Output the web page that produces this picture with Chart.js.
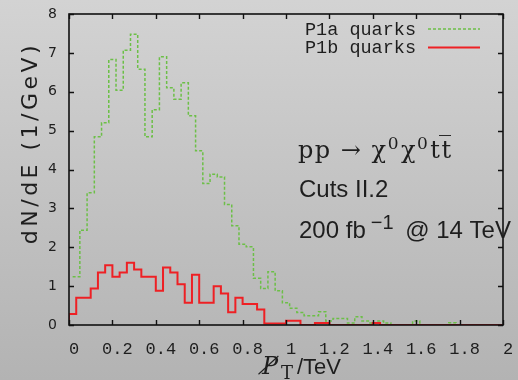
<!DOCTYPE html>
<html>
<head>
<meta charset="utf-8">
<script src="https://cdn.jsdelivr.net/npm/chart.js@4.4.1/dist/chart.umd.min.js"></script>
<style>
    html, body { margin: 0; padding: 0; }
    body { width: 518px; height: 380px; overflow: hidden; background: linear-gradient(#d3d3d3, #b3b3b3); }
    canvas { display: block; }
</style>
</head>
<body>
<canvas id="ptChart" width="518" height="380"></canvas>
<script>
// Histogram: 60 bins of missing pT between 0 and 2 TeV
const xMax = 2;
const nBins = 60;

// P1a quarks, read bin by bin (plotted half a bin shifted, starting at the 2nd bin centre)
const p1aValues = [
    1.24, 2.44, 3.40, 4.84, 5.20, 6.83, 6.04, 7.07, 7.48, 6.58,
    4.84, 5.54, 6.90, 6.10, 5.81, 6.23, 5.38, 4.48, 3.64, 3.88,
    3.81, 3.10, 2.55, 2.08, 2.01, 1.20, 0.94, 1.37, 0.88, 0.57,
    0.43, 0.32, 0.24, 0.24, 0.34, 0.10, 0.17, 0.17, 0.05, 0.21,
    0.10, 0.05, 0.10, 0.05, 0, 0, 0, 0.10, 0, 0,
    0, 0, 0.06, 0, 0, 0, 0, 0, 0
];

// P1b quarks
const p1bValues = [
    0.28, 0.70, 0.70, 0.94, 1.35, 1.54, 1.24, 1.35, 1.60, 1.43,
    1.24, 1.24, 0.88, 1.48, 1.35, 1.05, 0.57, 1.29, 0.57, 0.57,
    1.00, 0.81, 0.33, 0.70, 0.54, 0.54, 0.40, 0.04, 0.04, 0.04,
    0.11, 0.11, 0, 0, 0.05, 0.05, 0, 0, 0, 0,
    0, 0, 0.05, 0, 0, 0, 0, 0, 0, 0,
    0, 0, 0, 0, 0, 0, 0, 0, 0, 0
];

const xTicks = [0, 0.2, 0.4, 0.6, 0.8, 1, 1.2, 1.4, 1.6, 1.8, 2];
const yTicks = [0, 1, 2, 3, 4, 5, 6, 7, 8];
const seriesLabels = ['P1a quarks', 'P1b quarks'];

const textColor = '#1e1e1e';
const green = '#6cbf47';
const red = '#ee2024';

// Build step points from the bin values
function stepPoints(values, offset, startAtZero) {
    const w = xMax / nBins;
    const pts = [];
    if (startAtZero) pts.push({ x: offset * w, y: 0 });
    for (let i = 0; i < values.length; i++) {
        pts.push({ x: (i + offset) * w, y: values[i] });
    }
    pts.push({ x: xMax, y: values[values.length - 1] });
    return pts;
}

// Frame with inward ticks on all four sides
const framePlugin = {
    id: 'frame',
    afterDatasetsDraw(chart) {
        const ctx = chart.ctx;
        const a = chart.chartArea;
        const xs = chart.scales.x, ys = chart.scales.y;
        ctx.save();
        ctx.strokeStyle = '#111';
        ctx.lineWidth = 1.4;
        ctx.beginPath();
        xTicks.forEach(v => {
            const px = Math.round(xs.getPixelForValue(v)) + 0.5;
            ctx.moveTo(px, a.bottom); ctx.lineTo(px, a.bottom - 5);
            ctx.moveTo(px, a.top); ctx.lineTo(px, a.top + 5);
        });
        yTicks.forEach(v => {
            const py = Math.round(ys.getPixelForValue(v)) + 0.5;
            ctx.moveTo(a.left, py); ctx.lineTo(a.left + 5, py);
            ctx.moveTo(a.right, py); ctx.lineTo(a.right - 5, py);
        });
        ctx.stroke();
        ctx.lineWidth = 1.6;
        ctx.strokeRect(a.left, a.top, a.right - a.left, a.bottom - a.top);
        ctx.restore();
    }
};

// Legend, axis titles and the annotation
const textPlugin = {
    id: 'texts',
    afterDraw(chart) {
        const ctx = chart.ctx;
        ctx.save();
        ctx.fillStyle = textColor;

        // legend
        ctx.font = '18.5px "Liberation Mono", monospace';
        ctx.textAlign = 'right';
        ctx.textBaseline = 'middle';
        const colors = [green, red];
        seriesLabels.forEach((lab, i) => {
            const y = 29 + i * 18.5;
            ctx.fillText(lab, 416, y + 1);
            ctx.strokeStyle = colors[i];
            ctx.lineWidth = i === 0 ? 1.5 : 2;
            ctx.setLineDash(i === 0 ? [3, 2] : []);
            ctx.beginPath();
            ctx.moveTo(428, y); ctx.lineTo(480, y);
            ctx.stroke();
        });
        ctx.setLineDash([]);

        // y axis title
        ctx.save();
        ctx.translate(31, 143);
        ctx.rotate(-Math.PI / 2);
        ctx.textAlign = 'center';
        ctx.textBaseline = 'middle';
        ctx.font = '22px "DejaVu Sans", sans-serif';
        ctx.letterSpacing = '3.5px';
        ctx.fillText('dN/dE (1/GeV)', 0, 0);
        ctx.restore();

        // x axis title: missing pT
        ctx.textAlign = 'left';
        ctx.textBaseline = 'alphabetic';
        ctx.font = 'italic 24px "DejaVu Serif", serif';
        ctx.fillText('P\u0338', 262, 374);
        ctx.font = '18px "DejaVu Serif", serif';
        ctx.fillText('T', 281, 379);
        ctx.font = '22px "Liberation Sans", sans-serif';
        ctx.fillText('/TeV', 297, 374);

        // annotation, first line pieced together for the superscripts
        let x = 298;
        ctx.letterSpacing = '1.5px';
        ctx.font = '24px "DejaVu Serif", serif';
        ctx.fillText('pp \u2192 \u03c7', x, 158);
        x += ctx.measureText('pp \u2192 \u03c7').width;
        ctx.font = '17px "DejaVu Serif", serif';
        ctx.fillText('0', x, 149);
        x += ctx.measureText('0').width + 1;
        ctx.font = '24px "DejaVu Serif", serif';
        ctx.fillText('\u03c7', x, 158);
        x += ctx.measureText('\u03c7').width;
        ctx.font = '17px "DejaVu Serif", serif';
        ctx.fillText('0', x, 149);
        x += ctx.measureText('0').width + 1;
        ctx.font = '24px "DejaVu Serif", serif';
        ctx.fillText('tt\u0305', x, 158);
        ctx.letterSpacing = '0px';

        ctx.font = '24px "Liberation Sans", sans-serif';
        ctx.fillText('Cuts II.2', 299, 197);
        ctx.fillText('200 fb', 299, 238);
        x = 299 + ctx.measureText('200 fb').width + 5;
        ctx.font = '20px "Liberation Sans", sans-serif';
        ctx.fillText('\u22121', x, 229);
        x += ctx.measureText('\u22121').width + 5;
        ctx.font = '24px "Liberation Sans", sans-serif';
        ctx.fillText(' @ 14 TeV', x, 238);
        ctx.restore();
    }
};

const config = {
    type: 'line',
    data: {
        datasets: [{
            label: seriesLabels[1],
            data: stepPoints(p1bValues, 0, true),
            borderColor: red,
            borderWidth: 2,
            stepped: true,
            pointRadius: 0,
            fill: false,
            order: 0
        }, {
            label: seriesLabels[0],
            data: stepPoints(p1aValues, 0.5, false),
            borderColor: green,
            borderWidth: 1.5,
            borderDash: [3, 2],
            stepped: true,
            pointRadius: 0,
            fill: false,
            order: 1
        }]
    },
    options: {
        responsive: false,
        animation: false,
        events: [],
        layout: { padding: { top: 14, right: 15, left: 0, bottom: 0 } },
        plugins: { legend: { display: false }, tooltip: { enabled: false } },
        scales: {
            x: {
                type: 'linear',
                min: 0,
                max: xMax,
                grid: { display: false, drawTicks: false },
                border: { display: false },
                afterBuildTicks: s => { s.ticks = xTicks.map(v => ({ value: v })); },
                afterFit: s => { s.height = 55; s.paddingLeft = 0; s.paddingRight = 0; },
                ticks: {
                    color: textColor,
                    font: { family: 'Liberation Mono', size: 17 },
                    padding: 14,
                    labelOffset: 5,
                    maxRotation: 0,
                    autoSkip: false,
                    callback: v => String(Math.round(v * 10) / 10)
                }
            },
            y: {
                type: 'linear',
                min: 0,
                max: 8,
                grid: { display: false, drawTicks: false },
                border: { display: false },
                afterBuildTicks: s => { s.ticks = yTicks.map(v => ({ value: v })); },
                afterFit: s => { s.width = 69; s.paddingTop = 0; s.paddingBottom = 0; },
                ticks: {
                    color: textColor,
                    font: { family: 'DejaVu Sans', size: 14 },
                    padding: 12,
                    callback: v => String(v)
                }
            }
        }
    },
    plugins: [framePlugin, textPlugin]
};

const ctx = document.getElementById('ptChart').getContext('2d');
new Chart(ctx, config);
</script>
</body>
</html>
